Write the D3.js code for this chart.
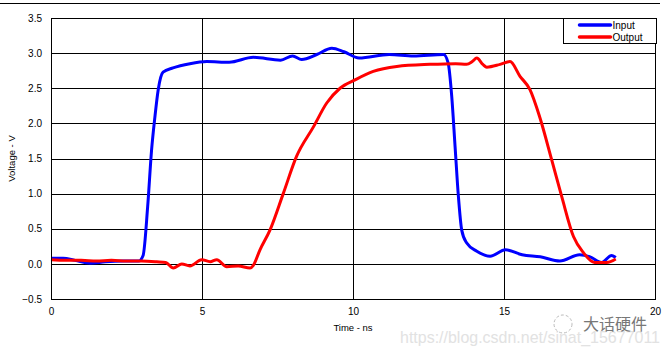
<!DOCTYPE html>
<html>
<head>
<meta charset="utf-8">
<script src="https://cdn.jsdelivr.net/npm/d3@7"></script>
<style>
  body { margin: 0; background: #fff; }
  svg { display: block; font-family: "Liberation Sans", Arial, sans-serif; }
</style>
</head>
<body>
<div id="chart"></div>
<script>
// values (time in ns, volts)
const inputTime = [0, 0.4, 0.8, 1.3, 1.8, 2.4, 2.9, 3.05, 3.2, 3.33, 3.44, 3.55, 3.71, 4.04, 4.6, 5.16, 5.9, 6.7, 7.6, 8.0, 8.3, 8.8, 9.3, 9.7, 10.2, 11.2, 12.0, 13.0, 13.15, 13.27, 13.38, 13.49, 13.6, 13.76, 14.1, 14.54, 15.05, 15.6, 16.2, 16.85, 17.5, 17.85, 18.23, 18.56, 18.7];
const inputV = [0.08, 0.08, 0.05, 0.01, 0.03, 0.04, 0.04, 0.12, 0.81, 1.62, 2.09, 2.48, 2.73, 2.79, 2.85, 2.88, 2.87, 2.94, 2.90, 2.96, 2.91, 2.98, 3.07, 3.02, 2.93, 2.98, 2.96, 2.98, 2.86, 2.38, 1.67, 0.96, 0.48, 0.30, 0.18, 0.11, 0.20, 0.13, 0.10, 0.04, 0.13, 0.10, 0.02, 0.12, 0.09];

const outputTime = [0, 0.5, 1, 1.5, 2, 2.5, 3, 3.5, 3.8, 4.05, 4.33, 4.6, 4.99, 5.27, 5.49, 5.82, 6.2, 6.59, 6.7, 6.92, 7.25, 7.69, 8.13, 8.69, 9.13, 9.57, 10.07, 10.67, 11.45, 12.55, 13.4, 13.76, 13.95, 14.1, 14.3, 14.43, 14.87, 15.2, 15.53, 15.86, 16.19, 16.58, 16.91, 17.3, 17.63, 18.0, 18.4, 18.7];
const outputV = [0.06, 0.05, 0.05, 0.04, 0.05, 0.04, 0.04, 0.03, 0.02, -0.06, 0.0, -0.03, 0.06, 0.03, 0.06, -0.04, -0.03, -0.06, -0.02, 0.2, 0.48, 1.0, 1.53, 1.95, 2.29, 2.50, 2.62, 2.74, 2.81, 2.84, 2.85, 2.84, 2.88, 2.93, 2.84, 2.80, 2.84, 2.88, 2.67, 2.48, 2.08, 1.48, 0.96, 0.39, 0.16, 0.02, 0.02, 0.07];

const xTicks = [0, 5, 10, 15, 20];
const yTicks = [-0.5, 0, 0.5, 1, 1.5, 2, 2.5, 3, 3.5];
const seriesNames = ["Input", "Output"];
const seriesColors = ["#0000ff", "#ff0000"];

const width = 668, height = 354;
const margin = { top: 18, right: 13, bottom: 55, left: 51 };

const svg = d3.select("#chart").append("svg")
  .attr("width", width)
  .attr("height", height);

const x = d3.scaleLinear().domain([0, 20]).range([margin.left, width - margin.right]);
const y = d3.scaleLinear().domain([-0.5, 3.5]).range([height - margin.bottom, margin.top]);

// thin rule at the very top of the image
svg.append("line")
  .attr("x1", 0).attr("x2", 660)
  .attr("y1", 3.5).attr("y2", 3.5)
  .attr("stroke", "#000").attr("stroke-width", 1);

// grid
svg.append("g")
  .selectAll("line")
  .data(yTicks)
  .join("line")
  .attr("x1", x(0)).attr("x2", x(20))
  .attr("y1", d => Math.round(y(d)) + 0.5).attr("y2", d => Math.round(y(d)) + 0.5)
  .attr("stroke", "#000");

svg.append("g")
  .selectAll("line")
  .data(xTicks)
  .join("line")
  .attr("x1", d => Math.round(x(d)) + 0.5).attr("x2", d => Math.round(x(d)) + 0.5)
  .attr("y1", y(3.5)).attr("y2", y(-0.5))
  .attr("stroke", "#000");

// axes (labels only)
const yAxis = d3.axisLeft(y).tickValues(yTicks).tickFormat(d3.format(".1f")).tickSize(0).tickPadding(9);
svg.append("g")
  .attr("transform", `translate(${margin.left},0)`)
  .call(yAxis)
  .call(g => g.select(".domain").remove())
  .selectAll("text")
  .attr("font-size", 10)
  .attr("font-family", "Liberation Sans, Arial, sans-serif")
  .attr("fill", "#000");

const xAxis = d3.axisBottom(x).tickValues(xTicks).tickSize(0).tickPadding(9);
svg.append("g")
  .attr("transform", `translate(0,${height - margin.bottom})`)
  .call(xAxis)
  .call(g => g.select(".domain").remove())
  .selectAll("text")
  .attr("font-size", 10)
  .attr("font-family", "Liberation Sans, Arial, sans-serif")
  .attr("fill", "#000");

// axis titles
svg.append("text")
  .attr("x", x(10)).attr("y", 331)
  .attr("text-anchor", "middle")
  .attr("font-size", 9.5)
  .text("Time - ns");

svg.append("text")
  .attr("transform", `translate(15,${y(1.5)}) rotate(-90)`)
  .attr("text-anchor", "middle")
  .attr("font-size", 9.5)
  .text("Voltage - V");

// the two traces
const line = d3.line()
  .x(d => x(d[0]))
  .y(d => y(d[1]))
  .curve(d3.curveMonotoneX);

const series = [
  d3.zip(inputTime, inputV),
  d3.zip(outputTime, outputV)
];

svg.append("g")
  .selectAll("path")
  .data(series)
  .join("path")
  .attr("fill", "none")
  .attr("stroke", (d, i) => seriesColors[i])
  .attr("stroke-width", 3)
  .attr("stroke-linejoin", "round")
  .attr("d", line);

// plot frame on top
svg.append("rect")
  .attr("x", x(0) + 0.5).attr("y", y(3.5) + 0.5)
  .attr("width", x(20) - x(0)).attr("height", y(-0.5) - y(3.5))
  .attr("fill", "none").attr("stroke", "#000");

// legend
const lg = svg.append("g").attr("transform", "translate(563.5,18.5)");
lg.append("rect")
  .attr("width", 93).attr("height", 25)
  .attr("fill", "#fff").attr("stroke", "#000");
const items = lg.selectAll("g")
  .data(seriesNames)
  .join("g")
  .attr("transform", (d, i) => `translate(0,${6.5 + i * 12})`);
items.append("line")
  .attr("x1", 16).attr("x2", 47)
  .attr("stroke", (d, i) => seriesColors[i])
  .attr("stroke-width", 3.5)
  .attr("stroke-linecap", "round");
items.append("text")
  .attr("x", 49).attr("y", 3.5)
  .attr("font-size", 10)
  .text(d => d);

// watermark
svg.append("text")
  .attr("x", 400).attr("y", 343)
  .attr("font-size", 17)
  .attr("textLength", 260)
  .attr("lengthAdjust", "spacingAndGlyphs")
  .attr("fill", "#e2e2e2")
  .text("https://blog.csdn.net/sinat_15677011");

svg.append("circle")
  .attr("cx", 563).attr("cy", 324).attr("r", 9)
  .attr("fill", "none").attr("stroke", "#bbb").attr("stroke-dasharray", "3,2");

svg.append("text")
  .attr("x", 583).attr("y", 330)
  .attr("font-size", 16)
  .attr("font-family", "Noto Sans CJK SC, sans-serif")
  .attr("fill", "#777")
  .text("大话硬件");
</script>
</body>
</html>
